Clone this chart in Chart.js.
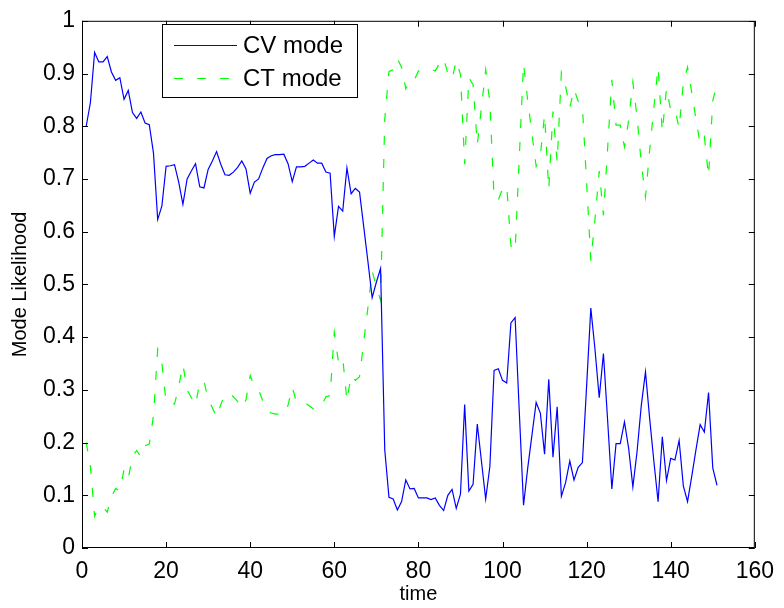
<!DOCTYPE html>
<html>
<head>
<meta charset="utf-8">
<script src="https://cdn.jsdelivr.net/npm/chart.js@4/dist/chart.umd.min.js"></script>
<style>
  html, body { margin: 0; padding: 0; background: #fff; }
  #wrap { width: 784px; height: 608px; }
</style>
</head>
<body>
<div id="wrap"><canvas id="chartCanvas" width="784" height="608"></canvas></div>
<script>
// Pasos de tiempo (1..151)
const time = Array.from({ length: 151 }, (_, i) => i + 1);

// Verosimilitud del modo CV (linea azul)
const cvMode = [
  0.800, 0.845, 0.940, 0.922, 0.922, 0.932, 0.903, 0.887, 0.892, 0.851,
  0.868, 0.826, 0.815, 0.827, 0.806, 0.803, 0.749, 0.623, 0.649, 0.724,
  0.725, 0.727, 0.694, 0.652, 0.700, 0.715, 0.729, 0.685, 0.683, 0.718,
  0.734, 0.752, 0.728, 0.708, 0.707, 0.713, 0.722, 0.734, 0.719, 0.673,
  0.694, 0.700, 0.721, 0.739, 0.744, 0.746, 0.746, 0.747, 0.729, 0.695,
  0.723, 0.723, 0.724, 0.730, 0.736, 0.730, 0.730, 0.713, 0.711, 0.591,
  0.648, 0.639, 0.721, 0.672, 0.682, 0.675, 0.609, 0.543, 0.475, 0.504,
  0.530, 0.186, 0.096, 0.093, 0.072, 0.088, 0.129, 0.112, 0.113, 0.095,
  0.095, 0.095, 0.092, 0.095, 0.081, 0.071, 0.100, 0.111, 0.075, 0.102,
  0.272, 0.108, 0.121, 0.235, 0.164, 0.093, 0.155, 0.337, 0.340, 0.318,
  0.313, 0.427, 0.437, 0.257, 0.081, 0.152, 0.214, 0.276, 0.256, 0.178,
  0.320, 0.172, 0.268, 0.098, 0.124, 0.165, 0.129, 0.153, 0.162, 0.307,
  0.455, 0.376, 0.285, 0.369, 0.242, 0.112, 0.198, 0.198, 0.239, 0.189,
  0.116, 0.183, 0.270, 0.334, 0.245, 0.164, 0.088, 0.211, 0.128, 0.170,
  0.167, 0.204, 0.118, 0.088, 0.136, 0.186, 0.234, 0.220, 0.295, 0.152,
  0.119
];

// Verosimilitud del modo CT (linea verde discontinua)
const ctMode = [
  0.200, 0.155, 0.060, 0.078, 0.078, 0.068, 0.097, 0.113, 0.108, 0.149,
  0.132, 0.174, 0.185, 0.173, 0.194, 0.197, 0.251, 0.377, 0.351, 0.276,
  0.275, 0.273, 0.306, 0.348, 0.300, 0.285, 0.271, 0.315, 0.317, 0.282,
  0.266, 0.248, 0.272, 0.292, 0.293, 0.287, 0.278, 0.266, 0.281, 0.327,
  0.306, 0.300, 0.279, 0.261, 0.256, 0.254, 0.254, 0.253, 0.271, 0.305,
  0.277, 0.277, 0.276, 0.270, 0.264, 0.270, 0.270, 0.287, 0.289, 0.409,
  0.352, 0.361, 0.279, 0.328, 0.318, 0.325, 0.391, 0.457, 0.525, 0.496,
  0.470, 0.814, 0.904, 0.907, 0.928, 0.912, 0.871, 0.888, 0.887, 0.905,
  0.905, 0.905, 0.908, 0.905, 0.919, 0.929, 0.900, 0.889, 0.925, 0.898,
  0.728, 0.892, 0.879, 0.765, 0.836, 0.907, 0.845, 0.663, 0.660, 0.682,
  0.687, 0.573, 0.563, 0.743, 0.919, 0.848, 0.786, 0.724, 0.744, 0.822,
  0.680, 0.828, 0.732, 0.902, 0.876, 0.835, 0.871, 0.847, 0.838, 0.693,
  0.545, 0.624, 0.715, 0.631, 0.758, 0.888, 0.802, 0.802, 0.761, 0.811,
  0.884, 0.817, 0.730, 0.666, 0.755, 0.836, 0.912, 0.789, 0.872, 0.830,
  0.833, 0.796, 0.882, 0.912, 0.864, 0.814, 0.766, 0.780, 0.705, 0.848,
  0.881
];

// Marcas de los ejes y sus etiquetas
const xTicks = [0, 20, 40, 60, 80, 100, 120, 140, 160];
const xTickLabels = ['0', '20', '40', '60', '80', '100', '120', '140', '160'];
const yTicks = [0, 0.1, 0.2, 0.3, 0.4, 0.5, 0.6, 0.7, 0.8, 0.9, 1];
const yTickLabels = ['0', '0.1', '0.2', '0.3', '0.4', '0.5', '0.6', '0.7', '0.8', '0.9', '1'];
const seriesNames = ['CV mode', 'CT mode'];

const FONT = "'Liberation Sans', Arial, Helvetica, sans-serif";

// Plugin: marco, marcas hacia adentro (estilo MATLAB) y leyenda
const marcoPlugin = {
  id: 'marco',
  afterDatasetsDraw(chart) {
    const { ctx, chartArea: a, scales: { x, y } } = chart;
    ctx.save();
    ctx.strokeStyle = '#000';
    ctx.lineWidth = 1;
    ctx.beginPath();
    x.ticks.forEach(t => {
      const px = Math.round(x.getPixelForValue(t.value)) + 0.5;
      ctx.moveTo(px, a.bottom); ctx.lineTo(px, a.bottom - 6);
      ctx.moveTo(px, a.top); ctx.lineTo(px, a.top + 6);
    });
    y.ticks.forEach(t => {
      const py = Math.round(y.getPixelForValue(t.value)) + 0.5;
      ctx.moveTo(a.left, py); ctx.lineTo(a.left + 6, py);
      ctx.moveTo(a.right, py); ctx.lineTo(a.right - 6, py);
    });
    ctx.stroke();
    ctx.strokeRect(a.left + 0.5, a.top + 0.5, a.right - a.left - 1, a.bottom - a.top - 1);

    // Leyenda
    const bx = 162.5, by = 24.5, bw = 195, bh = 73;
    ctx.fillStyle = '#fff';
    ctx.fillRect(bx, by, bw, bh);
    ctx.strokeRect(bx, by, bw, bh);
    const rows = [45, 78];
    chart.data.datasets.forEach((ds, i) => {
      ctx.beginPath();
      ctx.strokeStyle = ds.borderColor;
      ctx.lineWidth = ds.borderWidth;
      ctx.setLineDash(ds.borderDash || []);
      ctx.moveTo(174, rows[i] + 0.5);
      ctx.lineTo(237, rows[i] + 0.5);
      ctx.stroke();
      ctx.setLineDash([]);
      ctx.fillStyle = '#000';
      ctx.font = '24px ' + FONT;
      ctx.textBaseline = 'middle';
      ctx.textAlign = 'left';
      ctx.fillText(ds.label, 243, rows[i] + 1);
    });
    ctx.restore();
  }
};

const ctx = document.getElementById('chartCanvas').getContext('2d');
new Chart(ctx, {
  type: 'line',
  data: {
    datasets: [
      {
        label: seriesNames[0],
        data: time.map((t, i) => ({ x: t, y: cvMode[i] })),
        borderColor: '#0000ff',
        borderWidth: 1.2,
        pointRadius: 0,
        tension: 0,
        fill: false
      },
      {
        label: seriesNames[1],
        data: time.map((t, i) => ({ x: t, y: ctMode[i] })),
        borderColor: '#00ff00',
        borderWidth: 1.2,
        borderDash: [9, 14],
        pointRadius: 0,
        tension: 0,
        fill: false
      }
    ]
  },
  options: {
    responsive: false,
    animation: false,
    devicePixelRatio: 1,
    layout: { padding: { top: 13, right: 24, left: 0, bottom: 0 } },
    plugins: {
      legend: { display: false },
      tooltip: { enabled: false }
    },
    scales: {
      x: {
        type: 'linear',
        min: 0,
        max: 160,
        afterBuildTicks: s => { s.ticks = xTicks.map(v => ({ value: v })); },
        afterFit: s => { s.height = 60; },
        grid: { display: false, drawTicks: false },
        border: { display: false },
        ticks: {
          color: '#000', font: { family: FONT, size: 23 }, padding: 10, maxRotation: 0,
          callback: (v, i) => xTickLabels[i]
        },
        title: { display: true, text: 'time', color: '#000', font: { family: FONT, size: 20 }, padding: { top: 0, bottom: 2 } }
      },
      y: {
        type: 'linear',
        min: 0,
        max: 1,
        afterBuildTicks: s => { s.ticks = yTicks.map(v => ({ value: v })); },
        afterFit: s => { s.width = 82; },
        grid: { display: false, drawTicks: false },
        border: { display: false },
        ticks: {
          color: '#000', font: { family: FONT, size: 23 }, padding: 7,
          callback: (v, i) => yTickLabels[i]
        },
        title: { display: true, text: 'Mode Likelihood', color: '#000', font: { family: FONT, size: 20 }, padding: { top: 8, bottom: 0 } }
      }
    }
  },
  plugins: [marcoPlugin]
});
</script>
</body>
</html>
